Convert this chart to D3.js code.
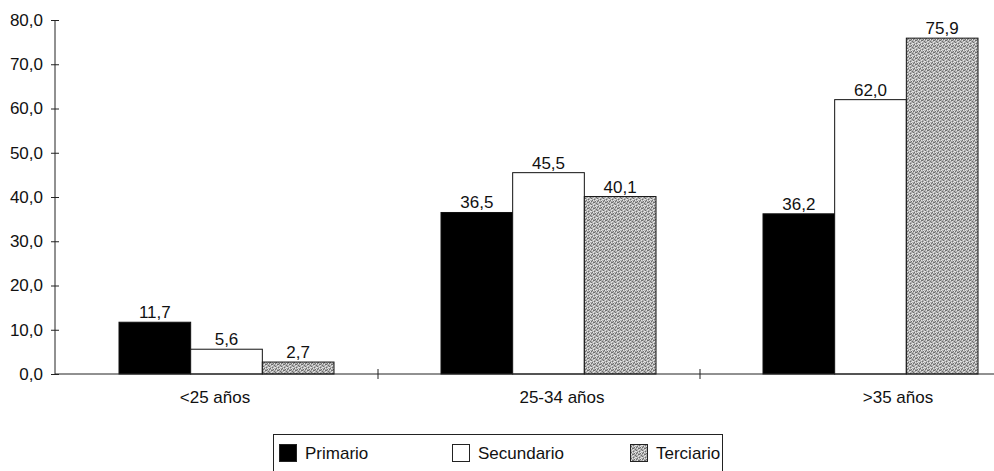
<!DOCTYPE html>
<html>
<head>
<meta charset="utf-8">
<script src="https://cdn.jsdelivr.net/npm/d3@7/dist/d3.min.js"></script>
<style>
  html, body { margin: 0; padding: 0; background: #fff; }
  svg { display: block; font-family: "Liberation Sans", Arial, Helvetica, sans-serif; }
</style>
</head>
<body>
<svg id="chart" width="994" height="471"></svg>
<script>
// Age groups, education levels and percentages
const categories = ["<25 años", "25-34 años", ">35 años"];
const series = ["Primario", "Secundario", "Terciario"];
const primario   = [11.7, 36.5, 36.2];
const secundario = [5.6, 45.5, 62.0];
const terciario  = [2.7, 40.1, 75.9];
const yTicks = [0, 10, 20, 30, 40, 50, 60, 70, 80];

const values = [primario, secundario, terciario];

const es = d3.formatLocale({ decimal: ",", thousands: ".", grouping: [3], currency: ["", " €"] });
const fmt = es.format(".1f");

const svg = d3.select("#chart");
const fontSize = 17;

// Stippled grey texture for the third series
const defs = svg.append("defs");
const pat = defs.append("pattern")
  .attr("id", "stipple")
  .attr("patternUnits", "userSpaceOnUse")
  .attr("width", 6).attr("height", 6);
pat.append("rect").attr("width", 6).attr("height", 6).attr("fill", "#b0b0b0");
const dark = [[0,0],[3,1],[1,2],[4,3],[2,4],[5,5],[0,3],[3,4]];
const light = [[2,0],[5,1],[0,1],[4,2],[1,4],[3,5],[5,3],[2,2]];
dark.forEach(([x, y]) => pat.append("rect").attr("x", x).attr("y", y).attr("width", 1).attr("height", 1).attr("fill", "#6e6e6e"));
light.forEach(([x, y]) => pat.append("rect").attr("x", x).attr("y", y).attr("width", 1).attr("height", 1).attr("fill", "#e4e4e4"));

const fills = ["#000000", "#ffffff", "url(#stipple)"];

// Scales
const y = d3.scaleLinear().domain([0, 80]).range([374, 20]);
const x0 = d3.scaleBand().domain(categories).range([56, 1022]).paddingInner(0).paddingOuter(0);
const groupOffset = 63;
const x1 = d3.scaleBand().domain(series).range([0, 215]).padding(0);
const xLabel = d3.scaleOrdinal().domain(categories).range([215, 562, 898]);

// Y axis with ticks crossing the line
const yAxis = svg.append("g")
  .attr("transform", "translate(55,0)")
  .call(d3.axisLeft(y).tickValues(yTicks).tickFormat(fmt).tickSizeInner(4).tickSizeOuter(0).tickPadding(8));
yAxis.select(".domain").attr("stroke", "#222").attr("d", `M0,${y(80)}V${y(0)}`);
yAxis.selectAll(".tick line").attr("x1", 4).attr("stroke", "#222");
yAxis.selectAll(".tick text")
  .attr("font-size", fontSize)
  .attr("font-family", "Liberation Sans, Arial, sans-serif")
  .attr("fill", "#111");

// Bars
const groups = svg.append("g").selectAll("g")
  .data(categories)
  .join("g")
  .attr("transform", d => `translate(${x0(d) + groupOffset},0)`);

groups.selectAll("rect")
  .data((c, ci) => series.map((s, si) => ({ s, si, v: values[si][ci] })))
  .join("rect")
  .attr("x", d => x1(d.s))
  .attr("y", d => y(d.v))
  .attr("width", x1.bandwidth())
  .attr("height", d => y(0) - y(d.v))
  .attr("fill", d => fills[d.si])
  .attr("stroke", "#111")
  .attr("stroke-width", 1);

groups.selectAll("text")
  .data((c, ci) => series.map((s, si) => ({ s, si, v: values[si][ci] })))
  .join("text")
  .attr("x", d => x1(d.s) + x1.bandwidth() / 2)
  .attr("y", d => y(d.v) - 4)
  .attr("text-anchor", "middle")
  .attr("font-size", fontSize)
  .attr("fill", "#111")
  .text(d => fmt(d.v));

// X axis line with ticks between categories
const xAxis = svg.append("g");
xAxis.append("line")
  .attr("x1", 55).attr("x2", 1022)
  .attr("y1", y(0)).attr("y2", y(0))
  .attr("stroke", "#222");
xAxis.selectAll("line.sep")
  .data(categories.slice(1))
  .join("line")
  .attr("class", "sep")
  .attr("x1", d => x0(d)).attr("x2", d => x0(d))
  .attr("y1", y(0) - 5).attr("y2", y(0) + 5)
  .attr("stroke", "#222");
xAxis.selectAll("text")
  .data(categories)
  .join("text")
  .attr("x", d => xLabel(d))
  .attr("y", 403)
  .attr("text-anchor", "middle")
  .attr("font-size", fontSize)
  .attr("fill", "#111")
  .text(d => d);

// Legend
const legend = svg.append("g");
legend.append("rect")
  .attr("x", 273.5).attr("y", 434.5)
  .attr("width", 449).attr("height", 50)
  .attr("fill", "none").attr("stroke", "#222");
const legendX = [279, 452, 630];
const item = legend.selectAll("g.item")
  .data(series)
  .join("g")
  .attr("class", "item")
  .attr("transform", (d, i) => `translate(${legendX[i]},444)`);
item.append("rect")
  .attr("x", 0.5).attr("y", 0.5)
  .attr("width", 17).attr("height", 17)
  .attr("fill", (d, i) => fills[i])
  .attr("stroke", "#222");
item.append("text")
  .attr("x", 26).attr("y", 15)
  .attr("font-size", fontSize)
  .attr("fill", "#111")
  .text(d => d);
</script>
</body>
</html>
